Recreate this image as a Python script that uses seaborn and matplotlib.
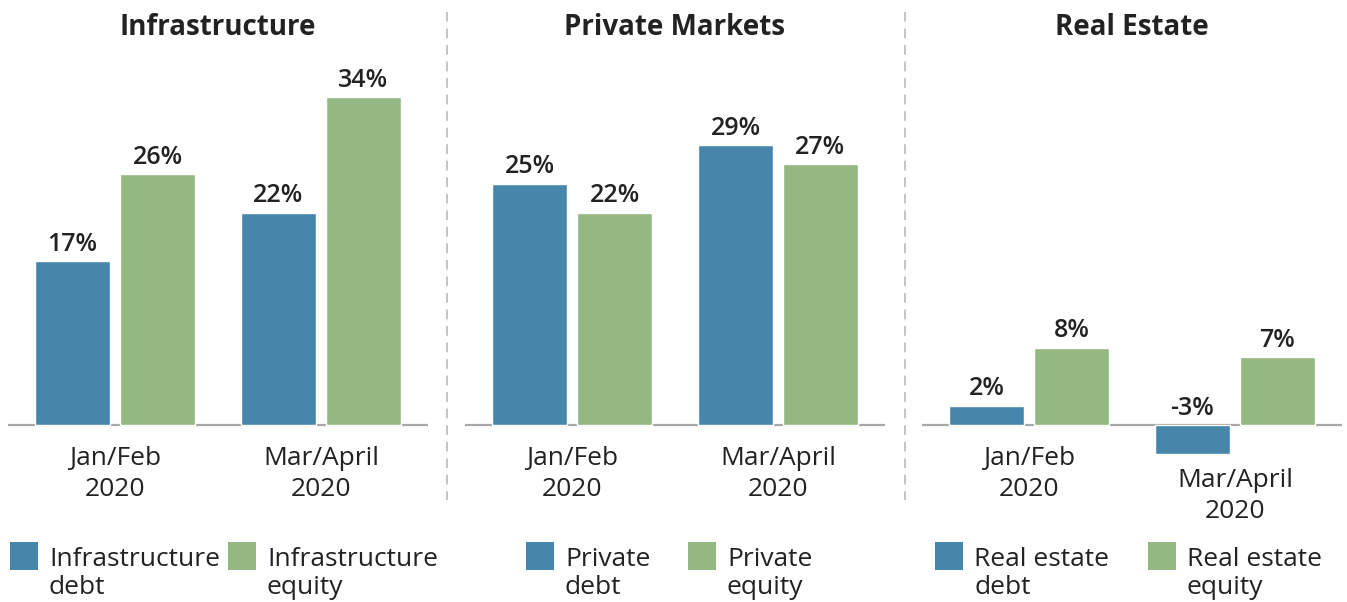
import numpy as np
import pandas as pd
import matplotlib
matplotlib.use("Agg")
import matplotlib.pyplot as plt
import seaborn as sns
from matplotlib.patches import Rectangle
from matplotlib.lines import Line2D

# data
periods = ["Jan/Feb\n2020", "Mar/April\n2020"]
titles = ["Infrastructure", "Private Markets", "Real Estate"]
debt_labels = ["Infrastructure\ndebt", "Private\ndebt", "Real estate\ndebt"]
equity_labels = ["Infrastructure\nequity", "Private\nequity", "Real estate\nequity"]
infra_debt = [17, 22]
infra_equity = [26, 34]
private_debt = [25, 29]
private_equity = [22, 27]
re_debt = [2, -3]
re_equity = [8, 7]

debt_vals = [infra_debt, private_debt, re_debt]
equity_vals = [infra_equity, private_equity, re_equity]

blue = "#4686ab"
green = "#93b882"
txt = "#222222"

sns.set_theme(style="white")
plt.rcParams["font.family"] = ["Open Sans", "DejaVu Sans"]

W, H = 1347, 602
fig = plt.figure(figsize=(W / 100, H / 100), dpi=100)

ax_top, ax_bot = 55, 520
base_y = 425
px_per = 9.65
ylim = (-(ax_bot - base_y) / px_per, (base_y - ax_top) / px_per)
lefts = [8, 465, 922]
legend_x = [(10, 228), (526, 688), (935, 1148)]


def fx(px):
    return px / W


def fy(px):
    return 1 - px / H


for i in range(3):
    ax = fig.add_axes([fx(lefts[i]), fy(ax_bot), 420 / W, (ax_bot - ax_top) / H])
    df = pd.DataFrame({
        "period": periods * 2,
        "kind": ["debt"] * 2 + ["equity"] * 2,
        "value": debt_vals[i] + equity_vals[i],
    })
    sns.barplot(data=df, x="period", y="value", hue="kind", order=periods,
                hue_order=["debt", "equity"], palette=[blue, green],
                width=0.825, gap=0.12, legend=False, ax=ax, saturation=1)
    ax.set_xlim(-0.52, 1.52)
    ax.set_ylim(*ylim)
    ax.axhline(0, color="#a8a8a8", lw=1.6, zorder=0.5)
    ax.axis("off")

    # value labels
    for p in ax.patches:
        v = p.get_height()
        x = p.get_x() + p.get_width() / 2
        top = max(v, 0)
        ax.text(x, top + 0.45, f"{v:.0f}%", ha="center", va="bottom",
                fontsize=18, fontweight="semibold", color=txt)

    # category labels
    for j, lab in enumerate(periods):
        low = min(debt_vals[i][j], equity_vals[i][j], 0)
        pad = 2.2 if low == 0 else 1.45
        ax.text(j, low - pad, lab, ha="center", va="top", fontsize=19,
                color=txt, linespacing=1.3)

    fig.text(fx(lefts[i] + 210), fy(35), titles[i], ha="center",
             va="baseline", fontsize=20, fontweight="bold", color=txt)

    # legend
    bx, gx = legend_x[i]
    for xx, col, lab in ((bx, blue, debt_labels[i]), (gx, green, equity_labels[i])):
        fig.add_artist(Rectangle((fx(xx), fy(570)), 28 / W, 28 / H,
                                 transform=fig.transFigure, facecolor=col,
                                 edgecolor="none"))
        fig.text(fx(xx + 39), fy(594), lab, ha="left", va="baseline",
                 fontsize=19, color=txt, linespacing=1.15)

# dashed separators
for sx in (447, 905):
    fig.add_artist(Line2D([fx(sx), fx(sx)], [fy(12), fy(500)],
                          transform=fig.transFigure, color="#c4c4c4",
                          lw=1.4, ls=(0, (5, 3.5))))

fig.savefig("out.png", dpi=100, facecolor="white")
